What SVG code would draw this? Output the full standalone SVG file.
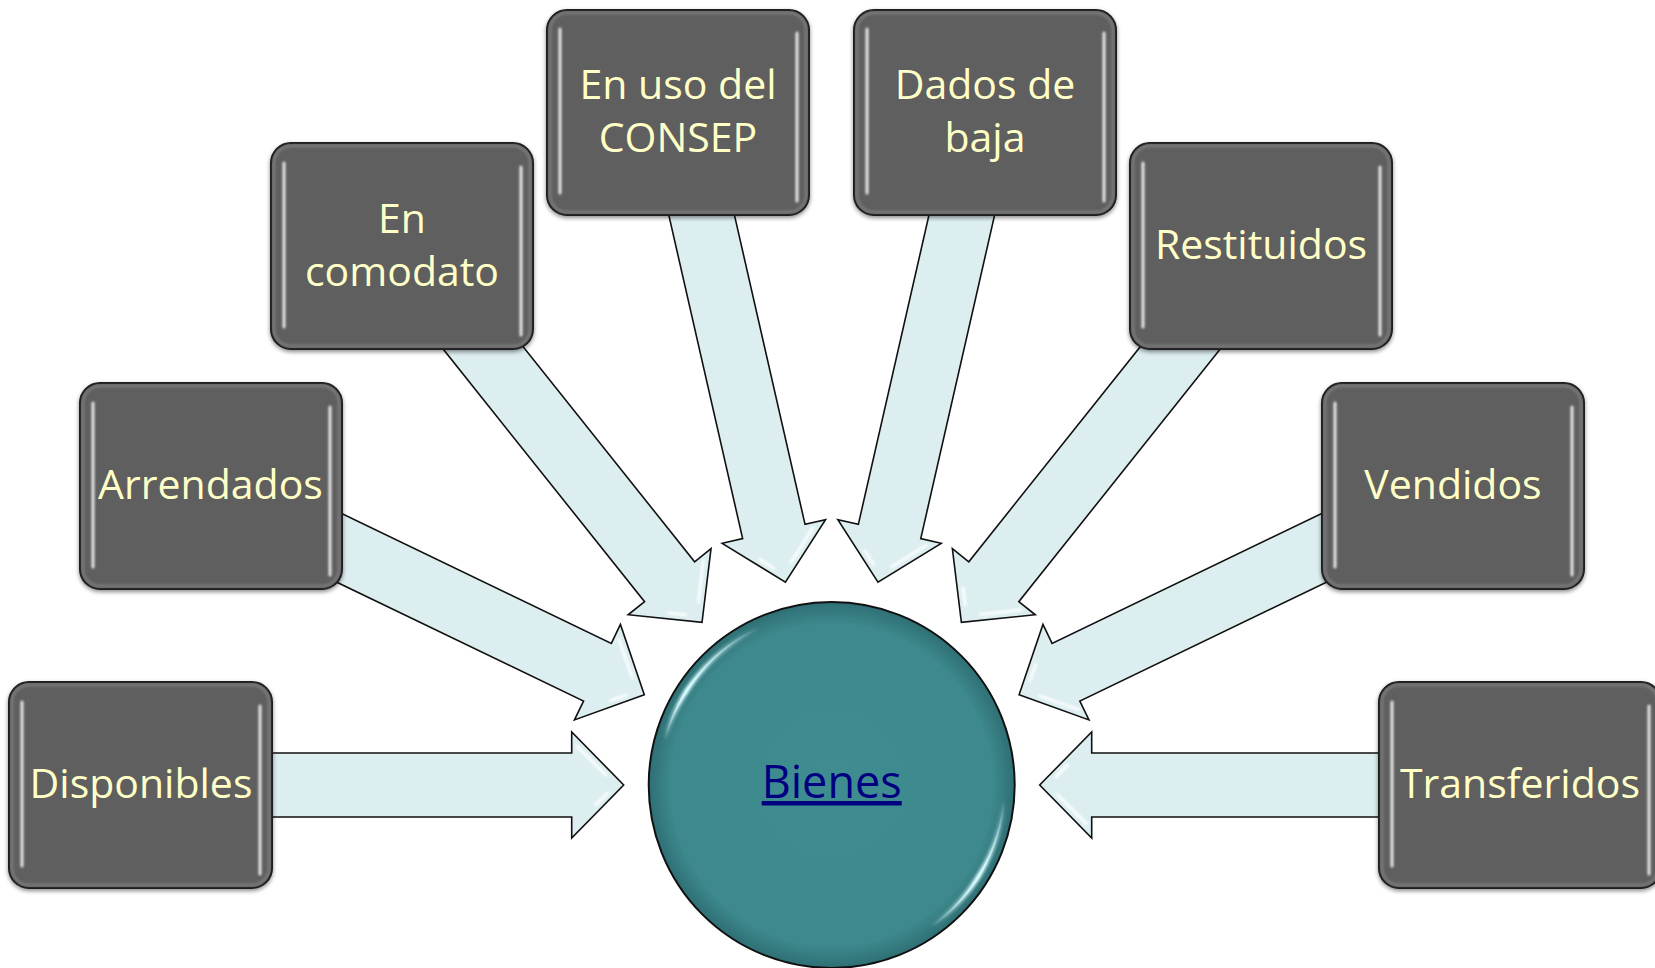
<svg xmlns="http://www.w3.org/2000/svg" width="1655" height="968" viewBox="0 0 1655 968">
  <style>
    .box { fill: #5E5E5E; stroke: #1A1A1A; stroke-width: 2; }
    .bevel { fill: none; stroke: #8C8C8C; stroke-width: 3; opacity: 0.55; }
    .hl { stroke: #FFFFFF; stroke-width: 3; stroke-linecap: round; opacity: 0.85; }
    .lbl { font-family: "Open Sans", "Noto Sans", "Liberation Sans", sans-serif; font-size: 41px; fill: #FFFFC8; text-anchor: middle; }
    .arrow { fill: #DCEEF0; stroke: #111111; stroke-width: 1.6; stroke-linejoin: miter; }
    .ahl { stroke: #FFFFFF; stroke-width: 3; stroke-linecap: round; opacity: 0.9; fill: none; }
    .center-lbl { font-family: "Open Sans", "Noto Sans", "Liberation Sans", sans-serif; font-size: 45px; fill: #000080; text-anchor: middle; text-decoration: underline; }
  </style>
  <defs>
    <filter id="shadow" x="-10%" y="-10%" width="120%" height="125%">
      <feDropShadow dx="0" dy="2" stdDeviation="2" flood-color="#000" flood-opacity="0.45"/>
    </filter>
    <filter id="soft" x="-20%" y="-20%" width="140%" height="140%">
      <feGaussianBlur stdDeviation="1"/>
    </filter>
    <filter id="softU" filterUnits="userSpaceOnUse" x="0" y="0" width="1655" height="968">
      <feGaussianBlur stdDeviation="0.8"/>
    </filter>
    <filter id="glow" x="-20%" y="-20%" width="140%" height="140%">
      <feGaussianBlur stdDeviation="1.6"/>
    </filter>
    <radialGradient id="ballFill" cx="0.5" cy="0.5" r="0.5">
      <stop offset="0" stop-color="#3F8D91"/>
      <stop offset="0.88" stop-color="#3D898D"/>
      <stop offset="1" stop-color="#2E6F74"/>
    </radialGradient>
    <linearGradient id="arcL" gradientUnits="userSpaceOnUse" x1="664.6" y1="740.2" x2="758.6" y2="628.2">
      <stop offset="0" stop-color="#D8FBFF" stop-opacity="0"/>
      <stop offset="0.35" stop-color="#D8FBFF" stop-opacity="1"/>
      <stop offset="1" stop-color="#D8FBFF" stop-opacity="0"/>
    </linearGradient>
    <linearGradient id="arcR" gradientUnits="userSpaceOnUse" x1="1004" y1="800.1" x2="930.9" y2="926.7">
      <stop offset="0" stop-color="#D8FBFF" stop-opacity="0"/>
      <stop offset="0.55" stop-color="#D8FBFF" stop-opacity="1"/>
      <stop offset="1" stop-color="#D8FBFF" stop-opacity="0"/>
    </linearGradient>
    <g id="arrowShape">
      <path class="arrow" d="M -600,-32 L -260,-32 L -260,-53 L -208,0 L -260,53 L -260,32 L -600,32 Z"/>
      <path class="ahl" filter="url(#soft)" d="M -255,-39 L -226,-10"/>
      <path class="ahl" filter="url(#soft)" d="M -236,20 L -224,8"/>
    </g>
  </defs>

  <rect x="0" y="0" width="1655" height="968" fill="#FFFFFF"/>

  <g id="connectors">
    <use href="#arrowShape" transform="translate(831.7,785) rotate(0)"/>
    <use href="#arrowShape" transform="translate(831.7,785) rotate(25.714)"/>
    <use href="#arrowShape" transform="translate(831.7,785) rotate(51.429)"/>
    <use href="#arrowShape" transform="translate(831.7,785) rotate(77.143)"/>
    <use href="#arrowShape" transform="translate(831.7,785) rotate(102.857)"/>
    <use href="#arrowShape" transform="translate(831.7,785) rotate(128.571)"/>
    <use href="#arrowShape" transform="translate(831.7,785) rotate(154.286)"/>
    <use href="#arrowShape" transform="translate(831.7,785) rotate(180)"/>
  </g>

  <g id="node-bienes">
    <circle cx="831.7" cy="785" r="183" fill="url(#ballFill)" stroke="#111111" stroke-width="2"/>
    <path d="M 664.6 740.2 A 173 173 0 0 1 758.6 628.2" fill="none" stroke="url(#arcL)" stroke-width="5" filter="url(#glow)"/>
    <path d="M 664.6 740.2 A 173 173 0 0 1 758.6 628.2" fill="none" stroke="url(#arcL)" stroke-width="2"/>
    <path d="M 1004 800.1 A 173 173 0 0 1 930.9 926.7" fill="none" stroke="url(#arcR)" stroke-width="5" filter="url(#glow)"/>
    <path d="M 1004 800.1 A 173 173 0 0 1 930.9 926.7" fill="none" stroke="url(#arcR)" stroke-width="2"/>
    <text class="center-lbl" x="831.7" y="798">Bienes</text>
  </g>

  <g id="node-disponibles">
    <rect class="box" x="9" y="682" width="263" height="206" rx="20" filter="url(#shadow)"/>
    <rect class="bevel" x="12" y="685" width="257" height="200" rx="17" filter="url(#soft)"/>
    <line class="hl" x1="22" y1="702" x2="22" y2="866" filter="url(#softU)"/>
    <line class="hl" x1="260" y1="706" x2="260" y2="874" filter="url(#softU)"/>
    <text class="lbl" x="141" y="798">Disponibles</text>
  </g>

  <g id="node-arrendados">
    <rect class="box" x="80" y="383" width="262" height="206" rx="20" filter="url(#shadow)"/>
    <rect class="bevel" x="83" y="386" width="256" height="200" rx="17" filter="url(#soft)"/>
    <line class="hl" x1="93" y1="403" x2="93" y2="567" filter="url(#softU)"/>
    <line class="hl" x1="330" y1="407" x2="330" y2="575" filter="url(#softU)"/>
    <text class="lbl" x="210.5" y="499">Arrendados</text>
  </g>

  <g id="node-comodato">
    <rect class="box" x="271" y="143" width="262" height="206" rx="20" filter="url(#shadow)"/>
    <rect class="bevel" x="274" y="146" width="256" height="200" rx="17" filter="url(#soft)"/>
    <line class="hl" x1="284" y1="163" x2="284" y2="327" filter="url(#softU)"/>
    <line class="hl" x1="521" y1="167" x2="521" y2="335" filter="url(#softU)"/>
    <text class="lbl" x="402" y="233"><tspan x="402">En</tspan><tspan x="402" dy="52.5">comodato</tspan></text>
  </g>

  <g id="node-consep">
    <rect class="box" x="547" y="10" width="262" height="205" rx="20" filter="url(#shadow)"/>
    <rect class="bevel" x="550" y="13" width="256" height="199" rx="17" filter="url(#soft)"/>
    <line class="hl" x1="560" y1="29" x2="560" y2="193" filter="url(#softU)"/>
    <line class="hl" x1="797" y1="33" x2="797" y2="201" filter="url(#softU)"/>
    <text class="lbl" x="678" y="99"><tspan x="678">En uso del</tspan><tspan x="678" dy="52.5">CONSEP</tspan></text>
  </g>

  <g id="node-baja">
    <rect class="box" x="854" y="10" width="262" height="205" rx="20" filter="url(#shadow)"/>
    <rect class="bevel" x="857" y="13" width="256" height="199" rx="17" filter="url(#soft)"/>
    <line class="hl" x1="867" y1="29" x2="867" y2="193" filter="url(#softU)"/>
    <line class="hl" x1="1104" y1="33" x2="1104" y2="201" filter="url(#softU)"/>
    <text class="lbl" x="985" y="99"><tspan x="985">Dados de</tspan><tspan x="985" dy="52.5">baja</tspan></text>
  </g>

  <g id="node-restituidos">
    <rect class="box" x="1130" y="143" width="262" height="206" rx="20" filter="url(#shadow)"/>
    <rect class="bevel" x="1133" y="146" width="256" height="200" rx="17" filter="url(#soft)"/>
    <line class="hl" x1="1143" y1="163" x2="1143" y2="327" filter="url(#softU)"/>
    <line class="hl" x1="1380" y1="167" x2="1380" y2="335" filter="url(#softU)"/>
    <text class="lbl" x="1261" y="259">Restituidos</text>
  </g>

  <g id="node-vendidos">
    <rect class="box" x="1322" y="383" width="262" height="206" rx="20" filter="url(#shadow)"/>
    <rect class="bevel" x="1325" y="386" width="256" height="200" rx="17" filter="url(#soft)"/>
    <line class="hl" x1="1335" y1="403" x2="1335" y2="567" filter="url(#softU)"/>
    <line class="hl" x1="1572" y1="407" x2="1572" y2="575" filter="url(#softU)"/>
    <text class="lbl" x="1453" y="499">Vendidos</text>
  </g>

  <g id="node-transferidos">
    <rect class="box" x="1379" y="682" width="282" height="206" rx="20" filter="url(#shadow)"/>
    <rect class="bevel" x="1382" y="685" width="276" height="200" rx="17" filter="url(#soft)"/>
    <line class="hl" x1="1392" y1="702" x2="1392" y2="866" filter="url(#softU)"/>
    <line class="hl" x1="1649" y1="706" x2="1649" y2="874" filter="url(#softU)"/>
    <text class="lbl" x="1520" y="798">Transferidos</text>
  </g>
</svg>
